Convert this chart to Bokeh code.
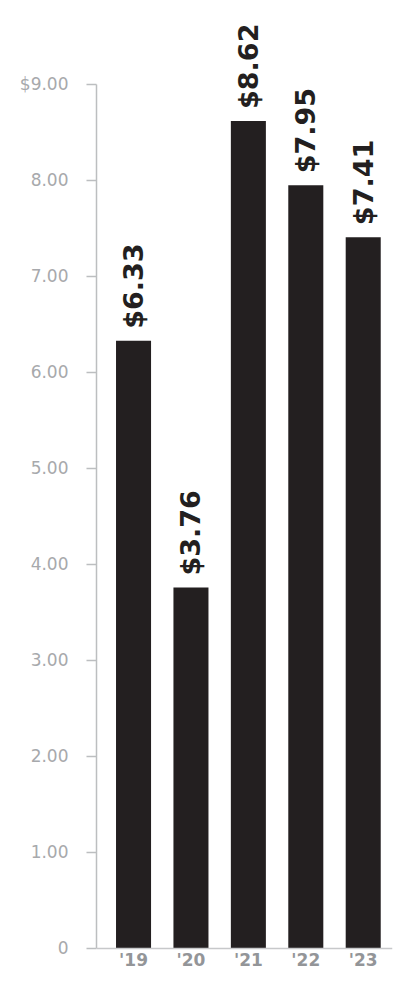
import numpy as np
from bokeh.plotting import figure
from bokeh.models import Range1d, FixedTicker, ColumnDataSource, Span
from bokeh.core.properties import value
from bokeh.embed import file_html
from bokeh.resources import INLINE

# Data
years = ["'19", "'20", "'21", "'22", "'23"]
amounts = [6.33, 3.76, 8.62, 7.95, 7.41]
amount_labels = ["$6.33", "$3.76", "$8.62", "$7.95", "$7.41"]
y_ticks = [0, 1, 2, 3, 4, 5, 6, 7, 8, 9]
y_tick_labels = ["0", "1.00", "2.00", "3.00", "4.00", "5.00", "6.00", "7.00", "8.00", "$9.00"]

xs = list(range(len(years)))
src = ColumnDataSource(dict(x=xs, top=amounts, label=amount_labels,
                            base=[0] * len(xs), year=years))

p = figure(width=396, height=971, output_backend="svg", toolbar_location=None,
           x_range=Range1d(-0.645, 4.51), y_range=Range1d(-0.2396, 9.875),
           min_border_left=96, min_border_right=4, min_border_top=0, min_border_bottom=0)

p.vbar(x="x", top="top", bottom=0, width=0.61, source=src,
       fill_color="#231f20", line_color=None)

# value labels (rotated, above bars)
p.text(x="x", y="top", text="label", source=src, angle=np.pi / 2,
       text_align="left", text_baseline="middle", y_offset=-12,
       text_font=value("DejaVu Sans"), text_font_style="bold",
       text_font_size="27px", text_color="#231f20")

# category labels under the baseline
p.text(x="x", y="base", text="year", source=src,
       text_align="center", text_baseline="bottom", y_offset=22,
       text_font=value("DejaVu Sans"), text_font_style="bold",
       text_font_size="17px", text_color="#939598")

# baseline
p.add_layout(Span(location=0, dimension="width", line_color="#c7c8ca", line_width=1.5))

p.grid.visible = False
p.outline_line_color = None
p.background_fill_color = "white"
p.border_fill_color = "white"
p.xaxis.visible = False

# y axis
ya = p.yaxis[0]
ya.ticker = FixedTicker(ticks=y_ticks)
ya.major_label_overrides = {t: l for t, l in zip(y_ticks, y_tick_labels)}
ya.bounds = (0, 9)
ya.axis_line_color = "#bcbec0"
ya.axis_line_width = 1.5
ya.major_tick_line_color = "#bcbec0"
ya.major_tick_line_width = 1.5
ya.major_tick_out = 10
ya.major_tick_in = 0
ya.minor_tick_line_color = None
ya.major_label_standoff = 18
ya.major_label_text_font = "DejaVu Sans"
ya.major_label_text_font_size = "17px"
ya.major_label_text_color = "#a7a9ac"

open("out.html", "w").write(file_html(p, INLINE))
